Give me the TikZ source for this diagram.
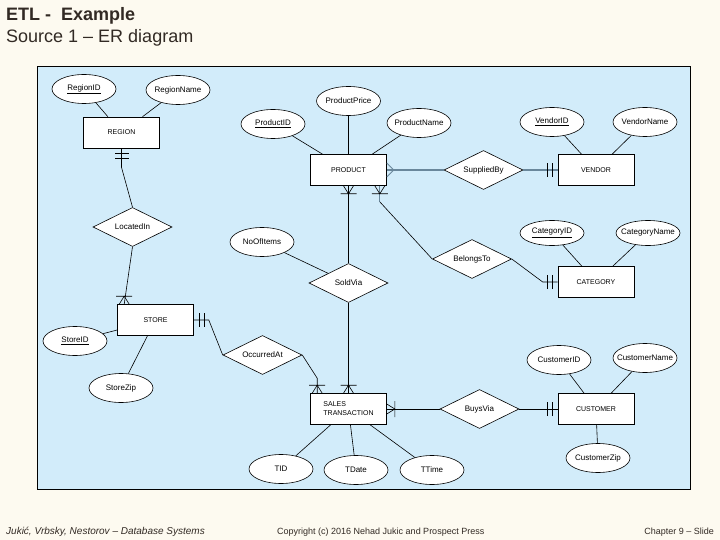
\documentclass[tikz,border=0pt]{standalone}
\usepackage{fontspec}
\setmainfont{Liberation Sans}
\usetikzlibrary{shapes.geometric}
\definecolor{cream}{RGB}{253,250,240}
\definecolor{panel}{RGB}{210,236,250}
\definecolor{steel}{RGB}{105,135,155}
\definecolor{titlegray}{RGB}{50,42,36}
\tikzstyle{link}=[line width=.6pt]
\tikzstyle{heavy}=[line width=1.3pt,steel]
\tikzstyle{entity}=[draw,line width=.6pt,fill=white,minimum width=76pt,minimum height=31pt,inner sep=1pt,font=\fontsize{7}{9}\selectfont]
\tikzstyle{attr}=[draw,line width=.6pt,ellipse,fill=white,minimum width=64pt,minimum height=29pt,inner ysep=0pt,inner xsep=-10pt,font=\fontsize{8}{9}\selectfont]
\tikzstyle{rel}=[draw,line width=.6pt,diamond,aspect=2,fill=white,minimum width=79pt,minimum height=39pt,inner sep=0pt,font=\fontsize{8}{9}\selectfont]
\tikzstyle{title}=[anchor=base west,inner sep=0pt,titlegray,font=\fontsize{18}{20}\selectfont]
\tikzstyle{footer}=[inner sep=0pt,titlegray,font=\fontsize{9}{10}\selectfont]
\tikzset{
  many/.pic={\draw[link] (-5,0) -- (0,-8) -- (5,0) (-8,-8) -- (8,-8);},
  crow/.pic={\draw[heavy,line width=.8pt] (-7,0) -- (0,-7) -- (7,0);},
  one/.pic={\draw[link] (-7,-5) -- (7,-5) (-7,-10) -- (7,-10);},
}

\begin{document}
\begin{tikzpicture}[x=1pt,y=-1pt]
    \fill[cream] (0,0) rectangle (720,540);
    \node[title,font=\fontsize{18}{20}\selectfont\bfseries] (head) at (6,21) {ETL -\ \ Example};
    \node[title] (subhead) at (6,43) {Source 1 – ER diagram};
    \draw[fill=panel,line width=.8pt] (37,66) rectangle (690,489);

    \node[entity] (REGION) at (121.5,132.5) {REGION};
    \node[entity] (PRODUCT) at (348.5,170) {PRODUCT};
    \node[entity] (VENDOR) at (596,170) {VENDOR};
    \node[entity] (CATEGORY) at (596,282) {CATEGORY};
    \node[entity] (STORE) at (155.5,320) {STORE};
    \node[entity,align=left] (SALES) at (348.5,409) {SALES\\TRANSACTION};
    \node[entity] (CUSTOMER) at (596,409) {CUSTOMER};

    \node[rel] (LocatedIn) at (132.5,227) {LocatedIn};
    \node[rel] (SuppliedBy) at (483.5,170) {SuppliedBy};
    \node[rel] (BelongsTo) at (472,259) {BelongsTo};
    \node[rel] (SoldVia) at (348.5,283) {SoldVia};
    \node[rel] (OccurredAt) at (262.5,355) {OccurredAt};
    \node[rel] (BuysVia) at (479.5,409) {BuysVia};

    \node[attr] (RegionID) at (84,89) {\underline{RegionID}};
    \node[attr] (RegionName) at (178,90) {RegionName};
    \node[attr] (ProductPrice) at (348.5,101) {ProductPrice};
    \node[attr] (ProductID) at (273,124) {\underline{ProductID}};
    \node[attr] (ProductName) at (419,123) {ProductName};
    \node[attr] (VendorID) at (552,122) {\underline{VendorID}};
    \node[attr] (VendorName) at (645,122) {VendorName};
    \node[attr,minimum height=25pt] (CategoryID) at (552,233) {\underline{CategoryID}};
    \node[attr,minimum height=25pt] (CategoryName) at (648,233) {CategoryName};
    \node[attr] (NoOfItems) at (262,242) {NoOfItems};
    \node[attr] (StoreID) at (75,341) {\underline{StoreID}};
    \node[attr] (StoreZip) at (121,388) {StoreZip};
    \node[attr] (CustomerID) at (559,360) {CustomerID};
    \node[attr] (CustomerName) at (645,358) {CustomerName};
    \node[attr] (CustomerZip) at (598,458) {CustomerZip};
    \node[attr] (TID) at (281,469) {TID};
    \node[attr] (TDate) at (356,470) {TDate};
    \node[attr] (TTime) at (432,470) {TTime};

    \foreach \a/\e in {RegionID/REGION,RegionName/REGION,ProductPrice/PRODUCT,
        ProductID/PRODUCT,ProductName/PRODUCT,VendorID/VENDOR,VendorName/VENDOR,
        CategoryID/CATEGORY,CategoryName/CATEGORY,NoOfItems/SoldVia,StoreID/STORE,
        StoreZip/STORE,CustomerID/CUSTOMER,CustomerName/CUSTOMER,CustomerZip/CUSTOMER,
        TID/SALES,TDate/SALES,TTime/SALES}
      \draw[link] (\a) -- (\e);

    \draw[link] (REGION.south) -- ++(0,19) -- (LocatedIn.north);
    \draw[link] (LocatedIn.south) -- ([xshift=7]STORE.north west);
    \draw[link] (STORE.east) -- ++(15,0) -- (OccurredAt.west);
    \draw[link] (OccurredAt.east) -- ([shift={(7,-15)}]SALES.north west) -- ([xshift=7]SALES.north west);
    \draw[link] (PRODUCT.south) -- (SoldVia.north);
    \draw[link] (SoldVia.south) -- (SALES.north);
    \draw[heavy,line width=.9pt] ([xshift=-7]PRODUCT.south east) -- ++(0,16) coordinate (bend);
    \draw[link] (bend) -- (BelongsTo.west);
    \draw[link] (BelongsTo.east) -- ([xshift=-15]CATEGORY.west) -- (CATEGORY.west);
    \draw[heavy] (PRODUCT.east) -- (SuppliedBy.west);
    \draw[heavy] (SuppliedBy.east) -- (VENDOR.west);
    \draw[link] (SALES.east) -- (BuysVia.west);
    \draw[link] (BuysVia.east) -- (CUSTOMER.west);

    \pic[rotate=180] at (REGION.south) {one};
    \pic at ([xshift=7]STORE.north west) {many};
    \pic[rotate=-90] at (STORE.east) {one};
    \pic at ([xshift=7]SALES.north west) {many};
    \pic at (SALES.north) {many};
    \pic[rotate=180] at (PRODUCT.south) {many};
    \pic[rotate=180] at ([xshift=-7]PRODUCT.south east) {many};
    \pic[rotate=-90] at (PRODUCT.east) {crow};
    \pic[rotate=90] at (VENDOR.west) {one};
    \pic[rotate=90] at (CATEGORY.west) {one};
    \pic[rotate=-90] at (SALES.east) {many};
    \pic[rotate=90] at (CUSTOMER.west) {one};

    \node[footer,anchor=base west,font=\fontsize{10}{11}\selectfont\itshape] (authors) at (6,534) {Jukić, Vrbsky, Nestorov – Database Systems};
    \node[footer,anchor=base west] (copyright) at (277,534) {Copyright (c) 2016 Nehad Jukic and Prospect Press};
    \node[footer,anchor=base east] (slide) at (714,534) {Chapter 9 – Slide};
\end{tikzpicture}
\end{document}
